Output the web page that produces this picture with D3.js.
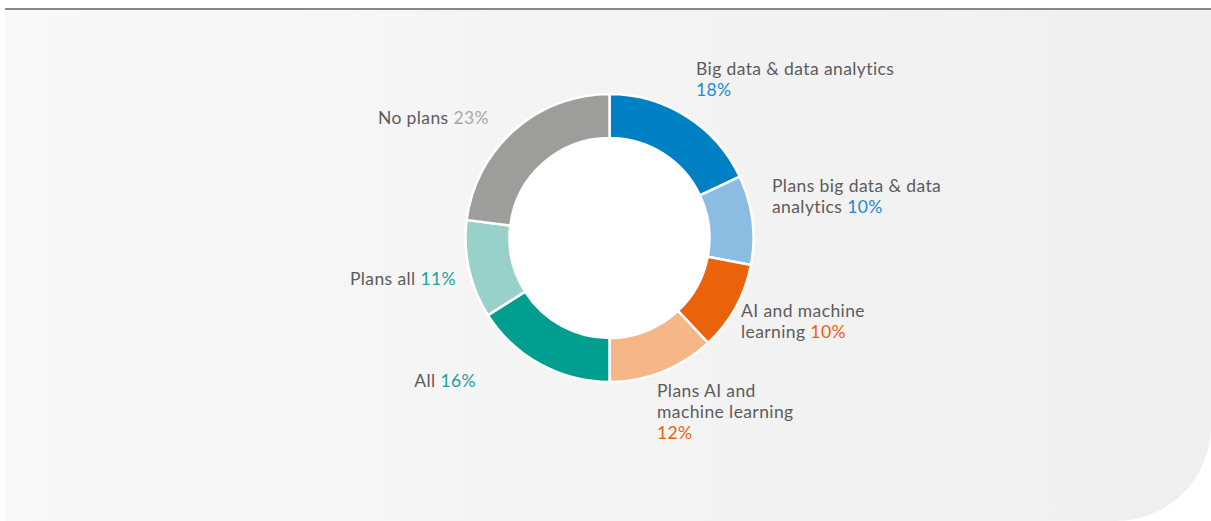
<!DOCTYPE html>
<html><head><meta charset="utf-8">
<script src="https://cdn.jsdelivr.net/npm/d3@7"></script>
<style>
html,body{margin:0;padding:0;background:#fff;}
svg{display:block;font-family:Lato,"Open Sans",sans-serif;}
</style></head>
<body>
<svg id="chart" width="1211" height="521"></svg>
<script>
const categories = ["Big data & data analytics","Plans big data & data analytics","AI and machine learning","Plans AI and machine learning","All","Plans all","No plans"];
const values = [18,10,10,12,16,11,23];
const colors = ["#0080c4","#8bbde3","#ea6209","#f7b688","#009e8f","#97d1c9","#9d9d9c"];
const pctColors = ["#1a8bc8","#1a8bc8","#ea6209","#ea6209","#1aa396","#1aa396","#a8a8a8"];
// label line breaks (text content)
const labelLines = [
  ["Big data & data analytics",""],
  ["Plans big data & data","analytics "],
  ["AI and machine","learning "],
  ["Plans AI and","machine learning",""],
  ["All "],
  ["Plans all "],
  ["No plans "]
];

const svg = d3.select("#chart");
const W = 1211, H = 521;
const defs = svg.append("defs");
const grad = defs.append("linearGradient").attr("id","bg").attr("x1","0").attr("x2","1").attr("y1","0").attr("y2","0");
grad.append("stop").attr("offset","0").attr("stop-color","#f8f8f8");
grad.append("stop").attr("offset","1").attr("stop-color","#efefef");

// panel with rounded bottom-right corner
const x0=5, y0=10, x1=W, y1=H, r=95;
svg.append("path")
  .attr("d",`M${x0},${y0}H${x1}V${y1-r}A${r},${r} 0 0 1 ${x1-r},${y1}H${x0}Z`)
  .attr("fill","url(#bg)");
svg.append("rect").attr("x",x0).attr("y",8).attr("width",W-x0).attr("height",2).attr("fill","#888");

const cx=609.5, cy=238, R=144, r0=100;
const pie = d3.pie().sort(null).value(d=>d)(values);
const arc = d3.arc().innerRadius(r0).outerRadius(R);
const g = svg.append("g").attr("transform",`translate(${cx},${cy})`);
g.selectAll("path").data(pie).join("path")
  .attr("d",arc)
  .attr("fill",(d,i)=>colors[i])
  .attr("stroke","#fff").attr("stroke-width",2.5).attr("stroke-linejoin","miter");
g.append("circle").attr("r",r0-1).attr("fill","#fff");

// label placement (layout)
const labelPos = [
  {x:696,y:75,anchor:"start"},
  {x:772,y:192,anchor:"start"},
  {x:741,y:317,anchor:"start"},
  {x:657,y:397,anchor:"start"},
  {x:476,y:387,anchor:"end"},
  {x:456,y:285,anchor:"end"},
  {x:489,y:124,anchor:"end"}
];
const lh = 21;
labelLines.forEach((lines,i)=>{
  const p = labelPos[i];
  const t = svg.append("text").attr("x",p.x).attr("y",p.y)
    .attr("text-anchor",p.anchor).attr("font-size",17.5).attr("letter-spacing",0.4).attr("fill","#5b5b5b");
  lines.forEach((ln,j)=>{
    const ts = t.append("tspan").attr("x",p.x).attr("dy", j===0?0:lh);
    if (j===lines.length-1){
      if (ln) ts.append("tspan").text(ln);
      ts.append("tspan").attr("fill",pctColors[i]).text(values[i]+"%");
    } else {
      ts.text(ln);
    }
  });
});
</script>
</body></html>
